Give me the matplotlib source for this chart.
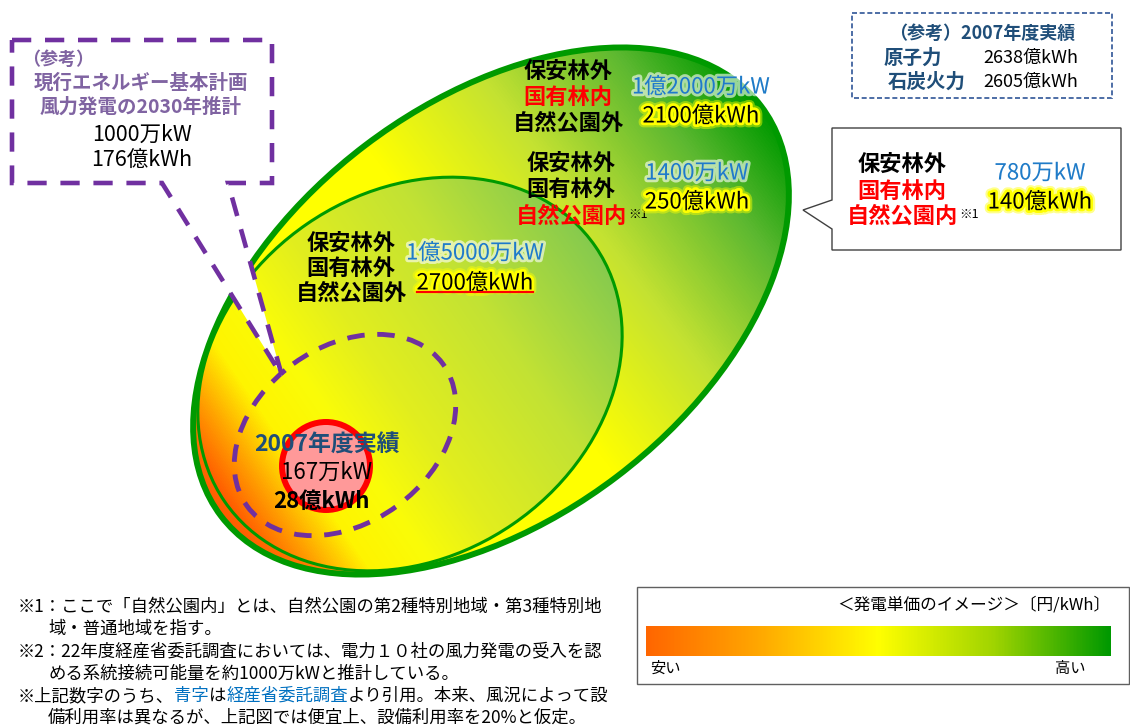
import numpy as np
import matplotlib
matplotlib.use('Agg')
import matplotlib.pyplot as plt
from matplotlib.patches import Ellipse, Circle, Polygon, Rectangle
from matplotlib.colors import LinearSegmentedColormap
import matplotlib.patheffects as pe

plt.rcParams['font.family'] = ['Noto Sans CJK JP', 'DejaVu Sans']

# ---- chart content ----
area_labels = [
    ['保安林外', '国有林内', '自然公園外'],
    ['保安林外', '国有林外', '自然公園内'],
    ['保安林外', '国有林外', '自然公園外'],
    ['保安林外', '国有林内', '自然公園内'],
]
area_note = ['', '※1', '', '※1']
area_capacity = ['1億2000万kW', '1400万kW', '1億5000万kW', '780万kW']
area_energy = ['2100億kWh', '250億kWh', '2700億kWh', '140億kWh']

actual_title = '2007年度実績'
actual_capacity = '167万kW'
actual_energy = '28億kWh'

plan_lines = ['（参考）', '現行エネルギー基本計画', '風力発電の2030年推計']
plan_capacity = '1000万kW'
plan_energy = '176億kWh'

ref_title = '（参考）2007年度実績'
ref_sources = ['原子力', '石炭火力']
ref_energy = ['2638億kWh', '2605億kWh']

legend_title = '＜発電単価のイメージ＞〔円/kWh〕'
legend_low = '安い'
legend_high = '高い'

notes = [
    [('※1：ここで「自然公園内」とは、自然公園の第2種特別地域・第3種特別地', 'k')],
    [('域・普通地域を指す。', 'k')],
    [('※2：22年度経産省委託調査においては、電力１０社の風力発電の受入を認', 'k')],
    [('める系統接続可能量を約1000万kWと推計している。', 'k')],
    [('※上記数字のうち、', 'k'), ('青字', 'blue'), ('は', 'k'), ('経産省委託調査', 'blue'),
     ('より引用。本来、風況によって設', 'k')],
    [('備利用率は異なるが、上記図では便宜上、設備利用率を20%と仮定。', 'k')],
]

# ---- colours ----
BLUE = '#1F7BC8'
NAVY = '#1F4E79'
PURPLE = '#7030A0'
LAVENDER = '#8064A2'
GREEN = '#009A00'

W, H = 1130, 727
fig = plt.figure(figsize=(W / 100, H / 100), dpi=100)
ax = fig.add_axes([0, 0, 1, 1])
ax.set_xlim(0, W)
ax.set_ylim(H, 0)
ax.axis('off')

X, Y = np.meshgrid(np.arange(W) + 0.5, np.arange(H) + 0.5)


def gradient_fill(cx, cy, a, b, ang, stops, lw, z):
    th = np.deg2rad(ang)
    t = ((X - cx) * np.cos(th) - (Y - cy) * np.sin(th)) / a
    t = np.clip((t + 1) / 2, 0, 1)
    cmap = LinearSegmentedColormap.from_list('g', stops)
    im = ax.imshow(cmap(t), extent=(0, W, H, 0), origin='upper', zorder=z, interpolation='bilinear')
    e = Ellipse((cx, cy), 2 * a, 2 * b, angle=-ang, facecolor='none', edgecolor=GREEN, lw=lw, zorder=z + 0.5)
    ax.add_patch(e)
    im.set_clip_path(e)


outer_stops = [(0, '#FF5A00'), (0.12, '#FFA000'), (0.27, '#FFFF00'), (0.5, '#FFFF00'),
               (0.7, '#C4E232'), (0.88, '#5CB830'), (1, '#009A00')]
mid_stops = [(0, '#FF5A00'), (0.08, '#FF9C00'), (0.18, '#FFF400'), (0.3, '#FAFC08'),
             (0.45, '#E2EE1E'), (0.72, '#C2E234'), (1, '#86CA4E')]
gradient_fill(491, 311, 339, 208, 37.2, outer_stops, 4.3, 1)
gradient_fill(410, 374, 225, 182, 34.5, mid_stops, 2.2, 2)

# pink circle of the 2007 result
ax.add_patch(Circle((326, 466), 44, facecolor='#FF9999', edgecolor='#FF0000', lw=4.3, zorder=4))

# dashed purple ellipse
ax.add_patch(Ellipse((345, 435), 242, 176, angle=-36, facecolor='none', edgecolor=PURPLE,
                     lw=3.5, linestyle=(0, (3.6, 2.6)), zorder=5))

# left callout with pointer
callout = Polygon([(12, 40), (272, 40), (272, 183), (228, 183), (282, 376), (162, 183), (12, 183)],
                  closed=True, facecolor='white', edgecolor=PURPLE, lw=3.3,
                  linestyle=(0, (4.2, 3.0)), joinstyle='miter', zorder=6)
ax.add_patch(callout)

# right callout
ax.add_patch(Polygon([(832, 128), (1121, 128), (1121, 250), (832, 250), (832, 229), (803, 210), (832, 200)],
                     closed=True, facecolor='white', edgecolor='#404040', lw=1.0, zorder=6))

# top right reference box
ax.add_patch(Rectangle((852, 13), 260, 85, facecolor='white', edgecolor='#2F5597', lw=1.2,
                       linestyle=(0, (3, 1.6)), zorder=6))

glow_y = [pe.withStroke(linewidth=7, foreground='#FFFF00', alpha=0.45),
          pe.withStroke(linewidth=4, foreground='#FFFF00')]
glow_w = [pe.withStroke(linewidth=4, foreground='white', alpha=0.6)]

# area labels
label_x = [568, 571, 351, 902]
label_y = [[71, 97, 123], [163, 189, 216], [243, 268, 293], [164, 191, 216]]
num_x = [701, 697, 475, 1040]
num_y = [[87, 116], [173, 202], [253, 283], [173, 202]]
for i, lines in enumerate(area_labels):
    for j, s in enumerate(lines):
        col = '#FF0000' if s.endswith('内') else 'black'
        t = ax.text(label_x[i], label_y[i][j], s, fontsize=16, fontweight='bold', color=col,
                    ha='center', va='center', zorder=8)
    if area_note[i]:
        ax.annotate(area_note[i], xy=(1, 0.55), xycoords=t, fontsize=9, va='center', ha='left',
                    xytext=(1, 0), textcoords='offset points', zorder=8)
    ax.text(num_x[i], num_y[i][0], area_capacity[i], fontsize=16, color=BLUE, ha='center', va='center',
            path_effects=glow_w, zorder=8)
    ax.text(num_x[i], num_y[i][1], area_energy[i], fontsize=16, color='black', ha='center', va='center',
            path_effects=glow_y, zorder=8)
ax.plot([417, 533], [292, 292], color='#FF0000', lw=1.6, zorder=8)

# 2007 result
ax.text(327, 445, actual_title, fontsize=16.5, fontweight='bold', color=NAVY, ha='center', va='center', zorder=8)
ax.text(327, 472, actual_capacity, fontsize=16, color='black', ha='center', va='center', zorder=8)
ax.text(321, 501, actual_energy, fontsize=16, fontweight='bold', color='black', ha='center', va='center', zorder=8)

# 2030 plan callout
ax.text(22, 59, plan_lines[0], fontsize=13, fontweight='bold', color=LAVENDER, ha='left', va='center', zorder=8)
ax.text(141, 83, plan_lines[1], fontsize=14, fontweight='bold', color=LAVENDER, ha='center', va='center', zorder=8)
ax.text(141, 107, plan_lines[2], fontsize=14, fontweight='bold', color=LAVENDER, ha='center', va='center', zorder=8)
ax.text(142, 135, plan_capacity, fontsize=15.5, color='black', ha='center', va='center', zorder=8)
ax.text(142, 161, plan_energy, fontsize=15.5, color='black', ha='center', va='center', zorder=8)

# reference box text
ax.text(982, 33, ref_title, fontsize=13, fontweight='bold', color=NAVY, ha='center', va='center', zorder=8)
src_x = [913, 927]
for k in range(2):
    ax.text(src_x[k], 58 + 24 * k, ref_sources[k], fontsize=14, fontweight='bold', color=NAVY,
            ha='center', va='center', zorder=8)
    ax.text(1031, 58 + 24 * k, ref_energy[k], fontsize=13, color='black', ha='center', va='center', zorder=8)

# notes
note_x = [18, 48, 18, 48, 18, 48]
note_y = [607, 629, 651, 674, 696, 718]
for k, parts in enumerate(notes):
    prev = None
    for s, c in parts:
        col = '#0070C0' if c == 'blue' else 'black'
        if prev is None:
            prev = ax.text(note_x[k], note_y[k], s, fontsize=12.5, color=col, ha='left', va='center', zorder=8)
        else:
            prev = ax.annotate(s, xy=(1, 0), xycoords=prev, fontsize=12.5, color=col,
                               ha='left', va='bottom', zorder=8)

# cost legend
ax.add_patch(Rectangle((637, 587), 492, 97, facecolor='white', edgecolor='#606060', lw=1.0, zorder=6))
bar_cmap = LinearSegmentedColormap.from_list('bar', [(0, '#FF6600'), (0.25, '#FFAA00'), (0.5, '#FFFF00'),
                                                     (0.75, '#A0D400'), (1, '#009900')])
ax.imshow(np.linspace(0, 1, 400)[None, :], cmap=bar_cmap, extent=(646, 1111, 656, 626), aspect='auto', zorder=7)
ax.text(1110, 605, legend_title, fontsize=12, color='black', ha='right', va='center', zorder=8)
ax.text(650, 668, legend_low, fontsize=11, color='black', ha='left', va='center', zorder=8)
ax.text(1085, 668, legend_high, fontsize=11, color='black', ha='right', va='center', zorder=8)

ax.set_xlim(0, W)
ax.set_ylim(H, 0)
fig.savefig('out.png', dpi=100)
